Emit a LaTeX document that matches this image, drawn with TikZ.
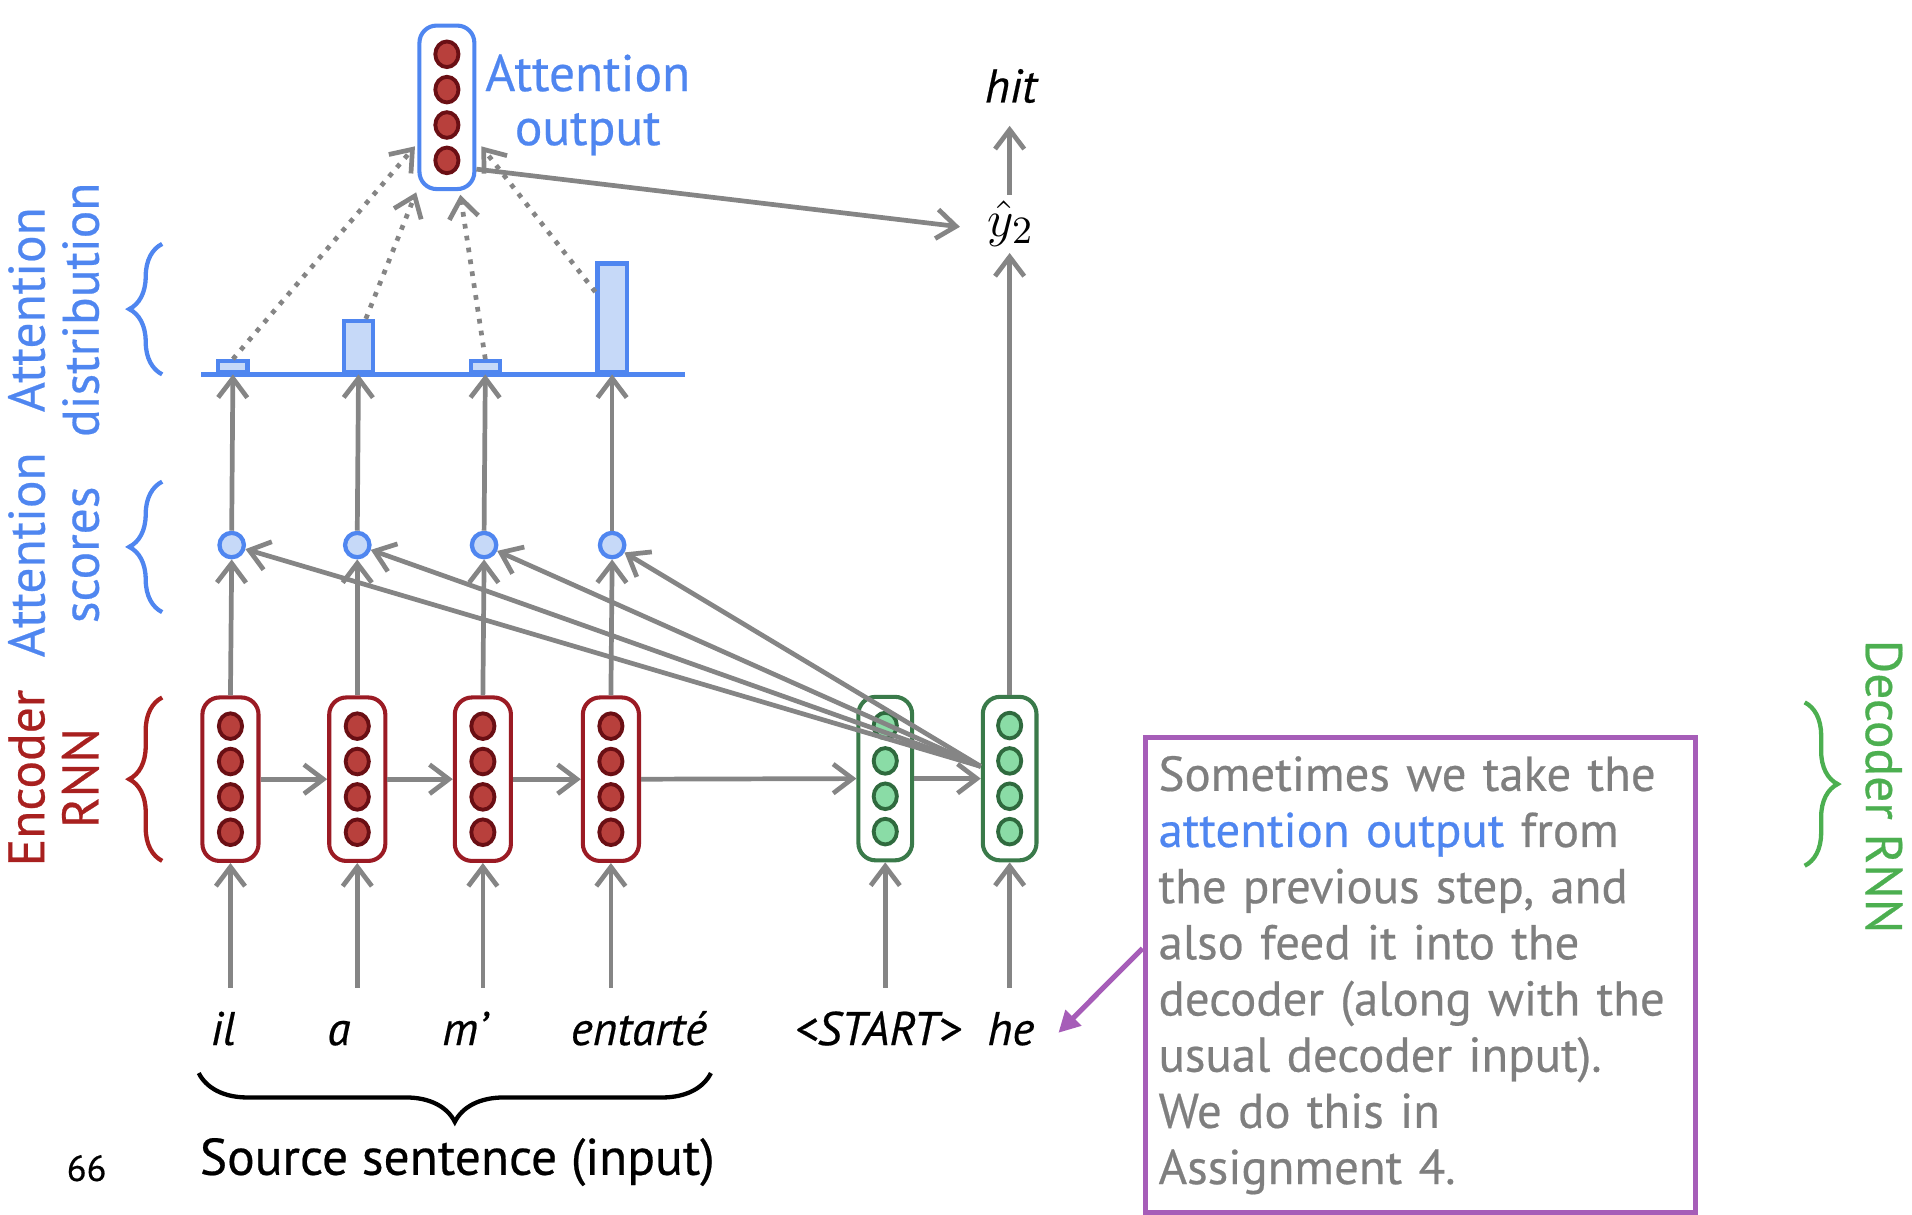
\documentclass[tikz,border=0pt]{standalone}
\usepackage{fontspec}
\setmainfont{PT Sans}[UprightFeatures={FakeBold=0.45}, ItalicFeatures={FakeBold=0.45}]
\usetikzlibrary{arrows.meta,decorations.pathreplacing,calc}

\definecolor{arrowgray}{HTML}{858585}
\definecolor{attblue}{HTML}{4F86F0}
\definecolor{attfill}{HTML}{C6D9F8}
\definecolor{encred}{HTML}{9B1B24}
\definecolor{encdotfill}{HTML}{B8403C}
\definecolor{encdotline}{HTML}{6A0F14}
\definecolor{decgreen}{HTML}{3A7A4A}
\definecolor{decdotfill}{HTML}{8ADCA6}
\definecolor{decdotline}{HTML}{2F6A3E}
\definecolor{labred}{HTML}{A8201F}
\definecolor{labgreen}{HTML}{4CAF50}
\definecolor{notepurple}{HTML}{A65DB8}
\definecolor{notegray}{HTML}{7F7F7F}

% a hidden-state vector: rounded box with four dots
\newcommand\drawvec[4]{%
  \node[#4box] (#1) at (#2,#3) {};
  \foreach \dy in {-43.5,-14.5,14.5,43.5}
    \filldraw[#4dot] ($(#1)+(0,\dy)$) ellipse [x radius=0.095cm, y radius=0.105cm];
}

\begin{document}
\begin{tikzpicture}[x=0.01cm,y=-0.01cm,
  vecbase/.style={line width=0.95pt, rounded corners=4pt, minimum width=0.46cm,
    minimum height=1.34cm, fill=white, inner sep=0pt},
  encbox/.style={vecbase, draw=encred},
  encdot/.style={fill=encdotfill, draw=encdotline, line width=0.9pt},
  decbox/.style={vecbase, draw=decgreen, minimum width=0.44cm},
  decdot/.style={fill=decdotfill, draw=decdotline, line width=0.9pt},
  outbox/.style={vecbase, draw=attblue, minimum width=0.45cm},
  outdot/.style={encdot},
  score/.style={circle, draw=attblue, fill=attfill, line width=1pt, minimum size=0.2cm, inner sep=0pt},
  bar/.style={draw=attblue, fill=attfill, line width=1pt, minimum width=0.24cm, inner sep=0pt, anchor=south},
  conn/.style={draw=arrowgray, line width=1.1pt, -{Straight Barb[length=4.5pt,width=6.8pt]}},
  dotconn/.style={conn, dash pattern=on 1.1pt off 1.7pt},
  word/.style={font=\fontsize{11}{13}\selectfont\itshape, anchor=base, inner sep=0pt},
  sidelabel/.style={font=\fontsize{12}{12.6}\selectfont, align=center, inner sep=0pt},
  sidebrace/.style={decorate, decoration={brace, amplitude=0.27cm}, line width=1pt},
  note/.style={draw=notepurple, line width=1.2pt, text=notegray, align=left,
    font=\fontsize{11.4}{13.1}\selectfont, minimum width=4.51cm, minimum height=3.89cm,
    inner xsep=0.11cm, text width=4.29cm},
  pointer/.style={draw=notepurple, line width=1.2pt, -{Triangle[length=5pt,width=5pt]}}
]
\useasboundingbox (0,0) rectangle (1568,996);

% encoder and decoder states
\drawvec{enc1}{189}{639}{enc}
\drawvec{enc2}{293}{639}{enc}
\drawvec{enc3}{396}{639}{enc}
\drawvec{enc4}{501}{639}{enc}
\drawvec{dec1}{726}{638.5}{dec}
\drawvec{dec2}{828}{638.5}{dec}

% attention output vector
\drawvec{out}{366.5}{88}{out}

% input words
\node[word] (w1) at (183,857) {il};
\node[word] (w2) at (278,857) {a};
\node[word] (w3) at (381,857) {m’};
\node[word] (w4) at (524,857) {entarté};
\node[word] (w5) at (720,857) {<START>};
\node[word] (w6) at (829,857) {he};
\coordinate (in1) at (189,810);
\coordinate (in2) at (293,810);
\coordinate (in3) at (396,810);
\coordinate (in4) at (501,810);
\coordinate (in5) at (726,810);
\coordinate (in6) at (828,810);
\foreach \i/\b in {1/enc1,2/enc2,3/enc3,4/enc4,5/dec1,6/dec2}
  \draw[conn] (in\i) -- (\b.south);

% recurrent connections
\draw[conn] (enc1.east) -- (enc2.west);
\draw[conn] (enc2.east) -- (enc3.west);
\draw[conn] (enc3.east) -- (enc4.west);
\draw[conn] (enc4.east) -- (dec1.west);
\draw[conn] (dec1.east) -- (dec2.west);

% attention scores
\node[score] (s1) at (190,447) {};
\node[score] (s2) at (293,447) {};
\node[score] (s3) at (397,447) {};
\node[score] (s4) at (502,447) {};
\draw[conn] (enc1.north) -- (s1.south);
\draw[conn] (enc2.north) -- (s2.south);
\draw[conn] (enc3.north) -- (s3.south);
\draw[conn] (enc4.north) -- (s4.south);

% decoder query to every score
\coordinate (q) at ($(dec2.west)+(0,-10)$);
\foreach \s in {s1,s2,s3,s4}
  \draw[conn] (q) -- (\s);

% attention distribution
\node[bar, minimum height=0.09cm] (b1) at (191,307) {};
\node[bar, minimum height=0.42cm] (b2) at (294,307) {};
\node[bar, minimum height=0.09cm] (b3) at (398,307) {};
\node[bar, minimum height=0.89cm] (b4) at (502,307) {};
\draw[attblue, line width=1pt] (165,307) -- (562,307);
\draw[conn] (s1.north) -- (b1.south);
\draw[conn] (s2.north) -- (b2.south);
\draw[conn] (s3.north) -- (b3.south);
\draw[conn] (s4.north) -- (b4.south);

% weighted sum into the attention output
\draw[dotconn] (b1.north) -- ($(out.west)+(-2,32)$);
\draw[dotconn] ($(b2.north)+(6,0)$) -- ($(out.south west)+(-1,1)$);
\draw[dotconn] (b3.north) -- ($(out.south)+(11,3)$);
\draw[dotconn] ($(b4.north west)+(0,25)$) -- ($(out.east)+(4,32)$);
\node[sidelabel, text=attblue] (outlbl) at (482,86) {Attention\\output};

% decoder output
\node[inner sep=0pt, font=\fontsize{13}{15}\selectfont] (yhat) at (829,183) {$\hat{y}_2$};
\node[word] (hit) at (829,84) {hit};
\draw[conn] (dec2.north) -- ($(yhat.south)+(-1,5)$);
\draw[conn] ($(yhat.north)+(-1,-4)$) -- ($(hit.south)+(-1,18)$);
\draw[conn] ($(out.south east)+(0,-18)$) -- ($(yhat.west)+(-22,3)$);

% side labels and braces
\node[sidelabel, text=labred, rotate=90] (lenc) at (44,638) {Encoder\\RNN};
\node[sidelabel, text=attblue, rotate=90] (lsc) at (44,455) {Attention\\scores};
\node[sidelabel, text=attblue, rotate=90] (ldist) at (44,254) {Attention\\distribution};
\draw[sidebrace, labred] (133,706) -- (133,572);
\draw[sidebrace, attblue] (133,502) -- (133,395);
\draw[sidebrace, attblue] (133,307) -- (133,200);
\node[sidelabel, text=labgreen, rotate=-90] (ldec) at (1545,645) {Decoder RNN};
\draw[sidebrace, labgreen] (1480,576) -- (1480,710);

% source sentence brace
\draw[decorate, decoration={brace, amplitude=0.4cm}, line width=1pt] (583,880) -- (163,880);
\node[font=\fontsize{12}{14}\selectfont, inner sep=0pt] (src) at (375,953) {Source sentence (input)};
\node[font=\fontsize{8.5}{10}\selectfont, inner sep=0pt] (pg) at (71,958) {66};

% side note
\node[note, anchor=north west] (note) at (937,603) {Sometimes we take the\\
{\color{attblue}attention output} from\\
the previous step, and\\
also feed it into the\\
decoder (along with the\\
usual decoder input).\\
We do this in\\
Assignment 4.};
\coordinate (ptr) at (868,847);
\draw[pointer] ($(note.west)+(0,-22)$) -- (ptr);
\end{tikzpicture}
\end{document}
